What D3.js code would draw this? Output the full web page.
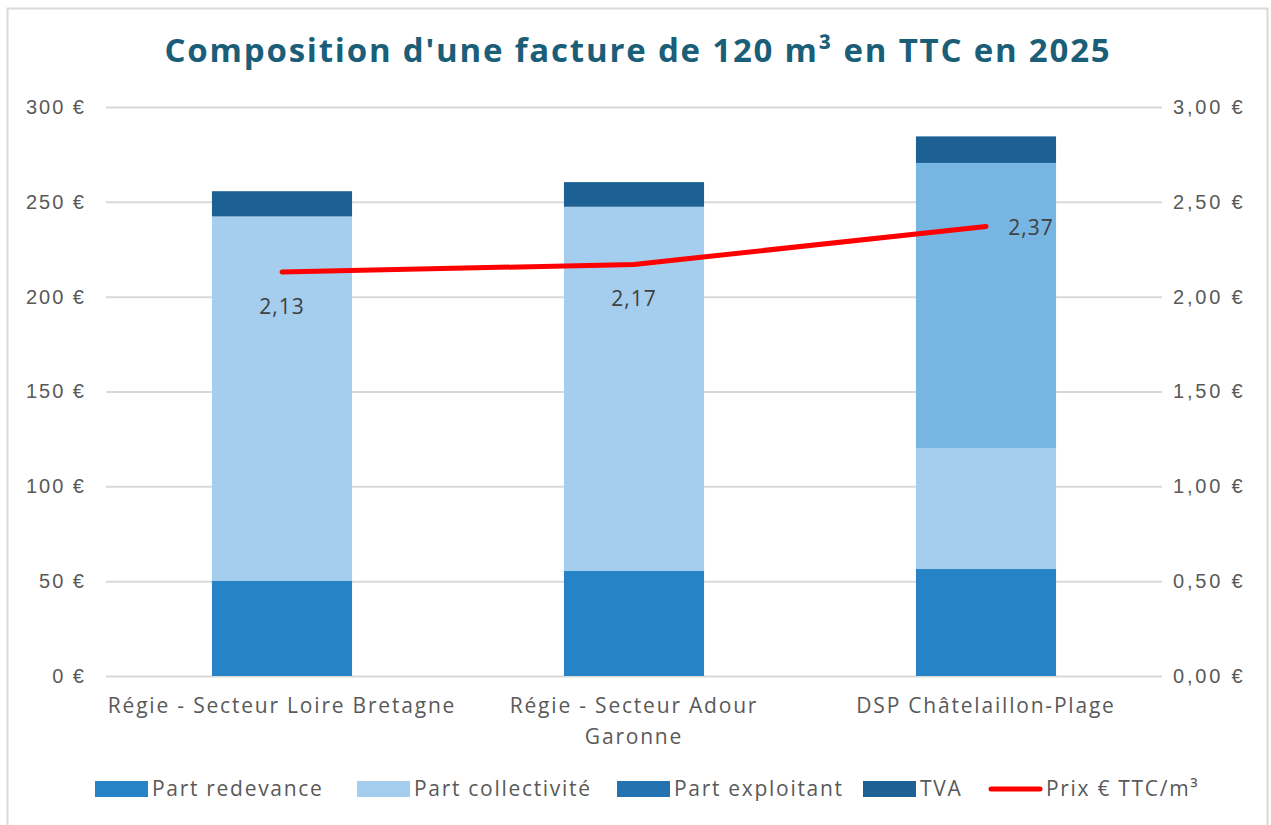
<!DOCTYPE html>
<html>
<head>
<meta charset="utf-8">
<script src="https://d3js.org/d3.v7.min.js"></script>
<style>
  html, body { margin: 0; padding: 0; background: #fff; }
  svg { display: block; font-family: "Century Gothic", "Open Sans", "DejaVu Sans", sans-serif; }
  .tick-label { fill: #595959; font-size: 20px; letter-spacing: 2px; }
  .cat-label { fill: #595959; font-size: 21px; letter-spacing: 1.8px; }
  .legend-label { fill: #595959; font-size: 21px; letter-spacing: 1.7px; }
  .data-label { fill: #404040; font-size: 21px; letter-spacing: 1px; }
</style>
</head>
<body>
<div id="chart"></div>
<script>
// categories and series
const categories = ['Régie - Secteur Loire Bretagne', 'Régie - Secteur Adour Garonne', 'DSP Châtelaillon-Plage'];
const categoryLines = [['Régie - Secteur Loire Bretagne'], ['Régie - Secteur Adour', 'Garonne'], ['DSP Châtelaillon-Plage']];
const partRedevance = [50.3, 55.4, 56.4];
const partCollectivite = [192.0, 192.0, 63.8];
const partExploitant = [0, 0, 150.3];
const tva = [13.3, 13.0, 14.0];
const prixM3 = [2.13, 2.17, 2.37];
const leftTicks = [0, 50, 100, 150, 200, 250, 300];
const rightTicks = [0, 0.5, 1, 1.5, 2, 2.5, 3];

const seriesNames = ['Part redevance', 'Part collectivité', 'Part exploitant', 'TVA'];
const barColors = ['#2683C6', '#A5CEEE', '#77B5E3', '#1D6194'];
const legendColors = ['#2683C6', '#A5CEEE', '#2473B0', '#1D6194'];

const W = 1271, H = 825;
const margin = { top: 107, right: 109, bottom: 149, left: 106 };

const svg = d3.select('#chart').append('svg')
  .attr('width', W).attr('height', H);

svg.append('rect').attr('width', W).attr('height', H).attr('fill', '#fff');
// chart frame
svg.append('rect')
  .attr('x', 7.5).attr('y', 8.5).attr('width', 1260).attr('height', 830)
  .attr('fill', 'none').attr('stroke', '#d9d9d9').attr('stroke-width', 2);

svg.append('text')
  .attr('x', 638).attr('y', 62)
  .attr('text-anchor', 'middle')
  .attr('fill', '#1B5E78')
  .style('font-size', '33px').style('font-weight', 'bold').style('letter-spacing', '1.8px')
  .text("Composition d'une facture de 120 m³ en TTC en 2025");

const x = d3.scaleBand().domain(categories)
  .range([margin.left, W - margin.right])
  .paddingInner(0.602).paddingOuter(0.301);
const y = d3.scaleLinear().domain([0, 300]).range([H - margin.bottom, margin.top]);
const y2 = d3.scaleLinear().domain([0, 3]).range([H - margin.bottom, margin.top]);

// grid
svg.append('g')
  .attr('transform', `translate(${margin.left},0)`)
  .call(d3.axisLeft(y).tickValues(leftTicks).tickSize(-(W - margin.left - margin.right)).tickFormat(''))
  .call(g => g.select('.domain').remove())
  .call(g => g.selectAll('line').attr('stroke', '#d9d9d9').attr('stroke-width', 2));

// left axis labels
svg.append('g')
  .attr('transform', `translate(${margin.left - 20},0)`)
  .call(d3.axisLeft(y).tickValues(leftTicks).tickSize(0).tickFormat(d => `${d} €`))
  .call(g => g.select('.domain').remove())
  .call(g => g.selectAll('text').attr('class', 'tick-label').attr('x', 0));

// right axis labels
svg.append('g')
  .attr('transform', `translate(${W - margin.right + 11},0)`)
  .call(d3.axisRight(y2).tickValues(rightTicks).tickSize(0).tickFormat(d => d.toFixed(2).replace('.', ',') + ' €'))
  .call(g => g.select('.domain').remove())
  .call(g => g.selectAll('text').attr('class', 'tick-label').attr('x', 0).style('letter-spacing', '2.8px'));

svg.selectAll('.tick').attr('font-family', null).attr('font-size', null);

// stacked bars
const rows = categories.map((c, i) => ({
  cat: c,
  'Part redevance': partRedevance[i],
  'Part collectivité': partCollectivite[i],
  'Part exploitant': partExploitant[i],
  'TVA': tva[i]
}));
const stacked = d3.stack().keys(seriesNames)(rows);

svg.append('g').selectAll('g')
  .data(stacked)
  .join('g')
  .attr('fill', (d, i) => barColors[i])
  .selectAll('rect')
  .data(d => d.filter(s => s[1] - s[0] > 0))
  .join('rect')
  .attr('x', d => x(d.data.cat))
  .attr('width', x.bandwidth())
  .attr('y', d => y(d[1]))
  .attr('height', d => y(d[0]) - y(d[1]));

// price line
const pts = categories.map((c, i) => ({ cat: c, v: prixM3[i] }));
svg.append('path')
  .datum(pts)
  .attr('fill', 'none')
  .attr('stroke', '#FF0000')
  .attr('stroke-width', 5)
  .attr('stroke-linecap', 'round')
  .attr('stroke-linejoin', 'round')
  .attr('d', d3.line().x(d => x(d.cat) + x.bandwidth() / 2).y(d => y2(d.v)));

// data labels: below for first two, right for last
svg.append('g').selectAll('text')
  .data(pts)
  .join('text')
  .attr('class', 'data-label')
  .attr('text-anchor', 'middle')
  .attr('x', (d, i) => x(d.cat) + x.bandwidth() / 2 + (i === 2 ? 45 : 0))
  .attr('y', (d, i) => y2(d.v) + (i === 2 ? 9 : 42))
  .text(d => d.v.toFixed(2).replace('.', ','));

// category labels
const catG = svg.append('g').selectAll('text')
  .data(categories)
  .join('text')
  .attr('class', 'cat-label')
  .attr('text-anchor', 'middle')
  .attr('x', d => x(d) + x.bandwidth() / 2)
  .attr('y', 713);
catG.selectAll('tspan')
  .data((d, i) => categoryLines[i])
  .join('tspan')
  .attr('x', function() { return d3.select(this.parentNode).attr('x'); })
  .attr('dy', (d, i) => i === 0 ? 0 : 31)
  .text(d => d);

// legend
const legendItems = [
  { name: 'Part redevance', color: legendColors[0], x: 95, type: 'rect' },
  { name: 'Part collectivité', color: legendColors[1], x: 357, type: 'rect' },
  { name: 'Part exploitant', color: legendColors[2], x: 617, type: 'rect' },
  { name: 'TVA', color: legendColors[3], x: 863, type: 'rect' },
  { name: 'Prix € TTC/m³', color: '#FF0000', x: 989, type: 'line' }
];
const lg = svg.append('g').selectAll('g')
  .data(legendItems)
  .join('g')
  .attr('transform', d => `translate(${d.x},789)`);
lg.filter(d => d.type === 'rect').append('rect')
  .attr('x', 0).attr('y', -8).attr('width', 53).attr('height', 16)
  .attr('fill', d => d.color);
lg.filter(d => d.type === 'line').append('line')
  .attr('x1', 2).attr('x2', 51).attr('y1', 0).attr('y2', 0)
  .attr('stroke', d => d.color).attr('stroke-width', 5).attr('stroke-linecap', 'round');
lg.append('text')
  .attr('class', 'legend-label')
  .attr('x', 57).attr('y', 7)
  .text(d => d.name);
</script>
</body>
</html>
